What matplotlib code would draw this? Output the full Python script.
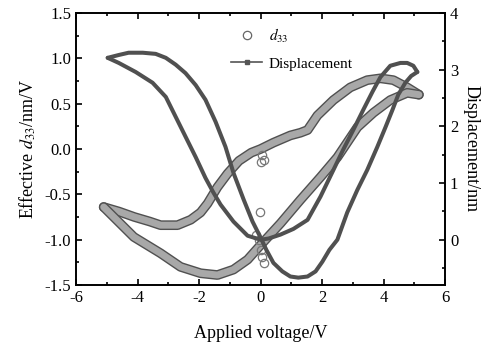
import matplotlib
matplotlib.use('Agg')
import matplotlib.pyplot as plt
from matplotlib.lines import Line2D
from matplotlib.ticker import MultipleLocator

plt.rcParams['font.family'] = ['Liberation Serif', 'DejaVu Serif']
plt.rcParams['mathtext.fontset'] = 'stix'
plt.rcParams['font.size'] = 11
plt.rcParams['axes.unicode_minus'] = False

# d33 loop (left axis)
d33_up_v = [-5.1, -4.6, -4.1, -3.6, -3.25, -2.7, -2.27, -1.95, -1.72, -1.4, -1.07, -0.7,
            -0.3, 0.0, 0.42, 0.97, 1.3, 1.53, 1.85, 2.37, 2.92, 3.47, 3.9, 4.32, 4.77, 5.15]
d33_up = [-0.64, -0.69, -0.75, -0.80, -0.84, -0.84, -0.78, -0.70, -0.60, -0.42, -0.27, -0.13,
          -0.04, 0.0, 0.07, 0.15, 0.18, 0.21, 0.37, 0.54, 0.68, 0.76, 0.78, 0.76, 0.68, 0.60]
d33_lo_v = [-5.1, -4.12, -3.25, -2.6, -1.95, -1.4, -0.88, -0.42, 0.0, 0.65, 1.3, 1.95,
            2.5, 3.15, 3.67, 4.22, 4.77, 5.15]
d33_lo = [-0.64, -0.97, -1.15, -1.30, -1.37, -1.39, -1.33, -1.22, -1.06, -0.82, -0.56, -0.31,
          -0.09, 0.24, 0.40, 0.54, 0.62, 0.60]
d33_out_v = [-0.03, 0.06, 0.1, 0.0, -0.16, -0.06, 0.0, 0.06, 0.1]
d33_out = [-0.69, -0.07, -0.12, -0.14, -0.95, -1.0, -1.11, -1.19, -1.26]

# displacement butterfly (right axis)
disp_a_v = [-4.97, -4.61, -4.29, -3.83, -3.41, -3.08, -2.76, -2.44, -2.11, -1.79, -1.46, -1.14,
            -0.88, -0.55, -0.26, 0.0, 0.19, 0.42, 0.71, 0.97, 1.23, 1.53, 1.79, 2.01, 2.24,
            2.5, 2.82, 3.15, 3.47, 3.8, 4.06, 4.29, 4.48, 4.71, 4.9, 5.1]
disp_a = [3.21, 3.26, 3.30, 3.30, 3.28, 3.21, 3.09, 2.94, 2.73, 2.47, 2.08, 1.64,
          1.18, 0.71, 0.32, 0.04, -0.18, -0.41, -0.56, -0.65, -0.67, -0.65, -0.56, -0.39, -0.18,
          0.0, 0.48, 0.88, 1.23, 1.64, 1.98, 2.29, 2.56, 2.77, 2.89, 2.96]
disp_b_v = [5.1, 4.97, 4.77, 4.55, 4.22, 3.9, 3.64, 3.34, 3.02, 2.69, 2.37, 1.95, 1.53, 1.07,
            0.65, 0.26, 0.0, -0.42, -0.88, -1.3, -1.53, -1.79, -2.11, -2.44, -2.76, -3.08,
            -3.51, -4.06, -4.61, -4.97]
disp_b = [2.96, 3.07, 3.12, 3.12, 3.07, 2.87, 2.61, 2.29, 1.94, 1.59, 1.23, 0.76, 0.35, 0.19,
          0.09, 0.02, 0.0, 0.07, 0.32, 0.62, 0.83, 1.09, 1.46, 1.82, 2.17, 2.52,
          2.77, 2.96, 3.12, 3.21]

fig = plt.figure(figsize=(4.92, 3.44), dpi=100)
ax = fig.add_axes([0.1545, 0.1715, 0.75, 0.7905])
ax2 = ax.twinx()

for xs, ys in [(d33_up_v, d33_up), (d33_lo_v, d33_lo)]:
    ax.plot(xs, ys, color='#505050', lw=7, solid_capstyle='round', solid_joinstyle='round')
    ax.plot(xs, ys, color='#a8a8a8', lw=5, solid_capstyle='round', solid_joinstyle='round')
ax.plot(d33_out_v, d33_out, 'o', ls='none', mfc='none', mec='#777777', ms=6, mew=0.9)

for xs, ys in [(disp_a_v, disp_a), (disp_b_v, disp_b)]:
    ax2.plot(xs, ys, color='#505050', lw=2.9, solid_capstyle='round', solid_joinstyle='round')

ax.set_xlim(-6, 6)
ax.set_ylim(-1.5, 1.5)
ax2.set_ylim(-0.8, 4)

ax.xaxis.set_major_locator(MultipleLocator(2))
ax.xaxis.set_minor_locator(MultipleLocator(1))
ax.yaxis.set_major_locator(MultipleLocator(0.5))
ax.yaxis.set_minor_locator(MultipleLocator(0.25))
ax2.yaxis.set_minor_locator(MultipleLocator(0.5))
ax2.set_yticks([0, 1, 2, 3, 4])

ax.tick_params(which='both', direction='in', top=True, right=False)
ax.tick_params(which='major', length=4, width=1.2, labelsize=12)
ax.tick_params(which='minor', length=2.5, width=1.2)
ax2.tick_params(which='both', direction='in')
ax2.tick_params(which='major', length=4, width=1.2, labelsize=12)
ax2.tick_params(which='minor', length=2.5, width=1.2)
for a in (ax, ax2):
    for s in a.spines.values():
        s.set_linewidth(1.2)

ax.set_xlabel('Applied voltage/V', fontsize=13, labelpad=14)
ax.set_ylabel('Effective $d_{33}$/nm/V', fontsize=13, labelpad=5)
ax2.set_ylabel('Displacement/nm', fontsize=13, rotation=270, labelpad=15)

h1 = Line2D([], [], marker='o', ls='none', mfc='none', mec='#666666', ms=6, mew=0.9)
h2 = Line2D([], [], color='#555555', lw=1.2, marker='s', ms=2.5)
fig.legend([h1, h2], ['$d_{33}$', 'Displacement'], loc='upper left',
           bbox_to_anchor=(0.455, 0.945), frameon=False, fontsize=11,
           handlelength=2.0, handletextpad=0.45, labelspacing=0.8, borderpad=0)

plt.savefig('out.png', dpi=100)
